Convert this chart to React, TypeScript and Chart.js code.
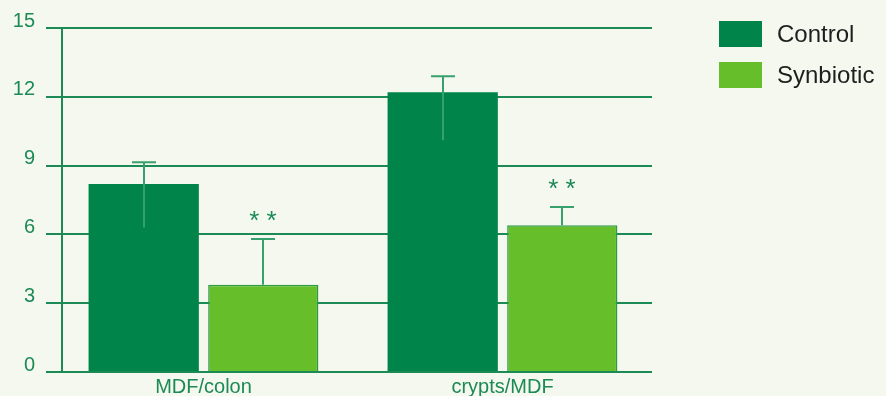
import React, { useEffect, useRef } from "react";
import { Chart, registerables } from "chart.js";

Chart.register(...registerables);

// Measurements per category
const categories = ["MDF/colon", "crypts/MDF"];
const seriesNames = ["Control", "Synbiotic"];
const controlValues = [8.2, 12.2];
const controlErrHigh = [9.15, 12.9];
const controlErrLow = [6.3, 10.1];
const synbioticValues = [3.8, 6.4];
const synbioticErrHigh = [5.8, 7.2];
const synbioticErrLow = [3.8, 6.4];
const significanceMarks = ["* *", "* *"];
const yTickValues = [0, 3, 6, 9, 12, 15];

const BG = "#f5f8ef";
const DARK = "#008449";
const LIGHT = "#66bf2a";
const LINE = "#1b8a55";
const WHISKER = "#37a16d";
const FONT = "'Liberation Sans', Arial, sans-serif";

type Extra = { errHigh: number[]; errLow: number[]; marks?: string[] };

const backgroundPlugin = {
  id: "bg",
  beforeDraw(chart: any) {
    const { ctx, width, height } = chart;
    ctx.save();
    ctx.fillStyle = BG;
    ctx.fillRect(0, 0, width, height);
    ctx.restore();
  },
};

// vertical axis line sitting just inside the plot area
const axisLinePlugin = {
  id: "axisLine",
  beforeDatasetsDraw(chart: any) {
    const { ctx, chartArea } = chart;
    const x = chartArea.left + 8;
    ctx.save();
    ctx.strokeStyle = LINE;
    ctx.lineWidth = 2;
    ctx.beginPath();
    ctx.moveTo(x, chartArea.top);
    ctx.lineTo(x, chartArea.bottom);
    ctx.stroke();
    ctx.restore();
  },
};

const errorBarPlugin = {
  id: "errorBars",
  afterDatasetsDraw(chart: any) {
    const { ctx } = chart;
    const yScale = chart.scales.y;
    chart.data.datasets.forEach((ds: any, di: number) => {
      const extra: Extra = ds.extra;
      if (!extra) return;
      const meta = chart.getDatasetMeta(di);
      meta.data.forEach((bar: any, i: number) => {
        const x = Math.round(bar.x);
        const yHi = yScale.getPixelForValue(extra.errHigh[i]);
        const yLo = yScale.getPixelForValue(extra.errLow[i]);
        ctx.save();
        ctx.strokeStyle = WHISKER;
        ctx.lineWidth = 2;
        ctx.beginPath();
        ctx.moveTo(x, yLo);
        ctx.lineTo(x, yHi);
        ctx.moveTo(x - 12, yHi);
        ctx.lineTo(x + 12, yHi);
        ctx.stroke();
        if (extra.marks && extra.marks[i]) {
          ctx.fillStyle = LINE;
          ctx.font = `26px ${FONT}`;
          ctx.textAlign = "center";
          ctx.textBaseline = "alphabetic";
          ctx.fillText(extra.marks[i], x, yHi - 10);
        }
        ctx.restore();
      });
    });
  },
};

const legendPlugin = {
  id: "sideLegend",
  afterDraw(chart: any) {
    const { ctx, chartArea } = chart;
    const x0 = chartArea.right + 67;
    chart.data.datasets.forEach((ds: any, i: number) => {
      const y0 = 21 + i * 41;
      ctx.save();
      ctx.fillStyle = ds.backgroundColor;
      ctx.fillRect(x0, y0, 43, 26);
      ctx.fillStyle = "#1e1e1e";
      ctx.font = `24px ${FONT}`;
      ctx.textAlign = "left";
      ctx.textBaseline = "middle";
      ctx.fillText(ds.label, x0 + 58, y0 + 14);
      ctx.restore();
    });
  },
};

export default function App() {
  const ref = useRef<HTMLCanvasElement>(null);

  useEffect(() => {
    if (!ref.current) return;
    const chart = new Chart(ref.current, {
      type: "bar",
      data: {
        labels: categories,
        datasets: [
          {
            label: seriesNames[0],
            data: controlValues,
            backgroundColor: DARK,
            borderWidth: 0,
            categoryPercentage: 0.8,
            barPercentage: 0.922,
            extra: { errHigh: controlErrHigh, errLow: controlErrLow },
          } as any,
          {
            label: seriesNames[1],
            data: synbioticValues,
            backgroundColor: LIGHT,
            borderColor: "#2f9a48",
            borderWidth: 1.5,
            categoryPercentage: 0.8,
            barPercentage: 0.922,
            extra: { errHigh: synbioticErrHigh, errLow: synbioticErrLow, marks: significanceMarks },
          } as any,
        ],
      },
      options: {
        animation: false,
        responsive: false,
        layout: { padding: { top: 28, right: 234, bottom: 0, left: 0 } },
        plugins: { legend: { display: false }, tooltip: { enabled: false } },
        scales: {
          x: {
            grid: { display: false, drawTicks: false },
            border: { display: false },
            ticks: { color: LINE, font: { family: FONT, size: 20 }, padding: 3 },
            afterFit(scale: any) {
              scale.height = 24;
            },
          },
          y: {
            min: 0,
            max: 15,
            afterBuildTicks(scale: any) {
              scale.ticks = yTickValues.map((v) => ({ value: v }));
            },
            grid: { color: LINE, lineWidth: 2, tickLength: 8, drawTicks: true },
            border: { display: false },
            ticks: {
              color: LINE,
              font: { family: FONT, size: 20 },
              padding: 11,
              labelOffset: -7,
            },
            afterFit(scale: any) {
              scale.width = 54;
            },
          },
        },
      },
      plugins: [backgroundPlugin, axisLinePlugin, errorBarPlugin, legendPlugin],
    });
    return () => chart.destroy();
  }, []);

  return (
    <div style={{ position: "fixed", left: 0, top: 0, width: 886, height: 396, background: BG }}>
      <canvas ref={ref} width={886} height={396} style={{ display: "block" }} />
    </div>
  );
}
